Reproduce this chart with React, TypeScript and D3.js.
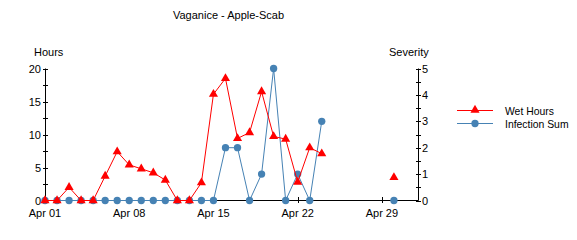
import React from "react";
import * as d3 from "d3";

const title = "Vaganice - Apple-Scab";
const dates = [
  "2024-04-01","2024-04-02","2024-04-03","2024-04-04","2024-04-05","2024-04-06","2024-04-07",
  "2024-04-08","2024-04-09","2024-04-10","2024-04-11","2024-04-12","2024-04-13","2024-04-14",
  "2024-04-15","2024-04-16","2024-04-17","2024-04-18","2024-04-19","2024-04-20","2024-04-21",
  "2024-04-22","2024-04-23","2024-04-24","2024-04-25","2024-04-26","2024-04-27","2024-04-28",
  "2024-04-29","2024-04-30",
];
const wetHours: (number | null)[] = [
  0, 0, 2, 0, 0, 3.7, 7.4, 5.4, 4.8, 4.2, 3.1, 0, 0, 2.7, 16.1, 18.5, 9.4, 10.3, 16.5, 9.7,
  9.3, 2.8, 8.0, 7.1, null, null, null, null, null, 3.5,
];
const infectionSum: (number | null)[] = [
  0, 0, 0, 0, 0, 0, 0, 0, 0, 0, 0, 0, 0, 0, 0, 2, 2, 0, 1, 5, 0, 1, 0, 3, null, null, null,
  null, null, 0,
];
const xTickDates = ["2024-04-01", "2024-04-08", "2024-04-15", "2024-04-22", "2024-04-29"];
const leftTicks = [0, 5, 10, 15, 20];
const rightTicks = [0, 1, 2, 3, 4, 5];
const seriesNames = ["Wet Hours", "Infection Sum"];

const RED = "#ff0000";
const BLUE = "#4682b4";
const FONT = "'Liberation Sans', Arial, sans-serif";

export default function App() {
  const W = 577, H = 240;
  const parse = d3.utcParse("%Y-%m-%d");
  const ds = dates.map((d) => parse(d) as Date);
  const start = ds[0];
  const end = d3.utcDay.offset(start, 31);
  const x = d3.scaleUtc().domain([start, end]).range([45, 418]);
  const yL = d3.scaleLinear().domain([0, 20]).range([200.5, 68.5]);
  const yR = d3.scaleLinear().domain([0, 5]).range([200.5, 68.5]);
  const fmt = d3.utcFormat("%b %d");

  const wetPts = ds.map((d, i) => ({ d, v: wetHours[i] }));
  const infPts = ds.map((d, i) => ({ d, v: infectionSum[i] }));
  const lineL = d3
    .line<{ d: Date; v: number | null }>()
    .defined((p) => p.v !== null)
    .x((p) => x(p.d))
    .y((p) => yL(p.v as number));
  const lineR = d3
    .line<{ d: Date; v: number | null }>()
    .defined((p) => p.v !== null)
    .x((p) => x(p.d))
    .y((p) => yR(p.v as number));

  const tri = d3.symbol().type(d3.symbolTriangle).size(36)() as string;
  const circ = d3.symbol().type(d3.symbolCircle).size(42)() as string;

  const minorL = d3.range(0, 20.01, 2.5);
  const minorR = d3.range(0, 5.01, 0.5);

  return (
    <svg
      width={W}
      height={H}
      style={{ position: "absolute", left: 0, top: 0, background: "#fff" }}
      fontFamily={FONT}
      fontSize={11}
    >
      <text x={228.5} y={19} textAnchor="middle" fill="#000">{title}</text>
      <text x={34} y={56} fill="#000">Hours</text>
      <text x={389} y={56} fill="#000">Severity</text>

      {/* axes */}
      <line x1={45.5} x2={45.5} y1={68.5} y2={200.5} stroke="#000" />
      <line x1={418.5} x2={418.5} y1={68.5} y2={200.5} stroke="#000" />
      <line x1={45} x2={418.5} y1={200.5} y2={200.5} stroke="#000" />
      {minorL.map((v) => (
        <line key={"ml" + v} x1={43} x2={48} y1={Math.round(yL(v)) + 0.5} y2={Math.round(yL(v)) + 0.5} stroke="#000" />
      ))}
      {leftTicks.map((v) => (
        <text key={"lt" + v} x={41} y={yL(v) + 4} textAnchor="end" fill="#000">{v}</text>
      ))}
      {minorR.map((v) => (
        <line key={"mr" + v} x1={416} x2={421} y1={Math.round(yR(v)) + 0.5} y2={Math.round(yR(v)) + 0.5} stroke="#000" />
      ))}
      {rightTicks.map((v) => (
        <text key={"rt" + v} x={422} y={yR(v) + 4} fill="#000">{v}</text>
      ))}
      {xTickDates.map((s) => {
        const d = parse(s) as Date;
        const px = Math.round(x(d)) + 0.5;
        return (
          <g key={s}>
            <line x1={px} x2={px} y1={197} y2={203} stroke="#000" />
            <text x={x(d)} y={217} textAnchor="middle" fill="#000">{fmt(d)}</text>
          </g>
        );
      })}

      {/* Infection Sum */}
      <path d={lineR(infPts) as string} fill="none" stroke={BLUE} strokeWidth={1} />
      {infPts.filter((p) => p.v !== null).map((p, i) => (
        <path key={"c" + i} d={circ} transform={`translate(${x(p.d)},${yR(p.v as number)})`} fill={BLUE} />
      ))}

      {/* Wet Hours */}
      <path d={lineL(wetPts) as string} fill="none" stroke={RED} strokeWidth={1} />
      {wetPts.filter((p) => p.v !== null).map((p, i) => (
        <path key={"t" + i} d={tri} transform={`translate(${x(p.d)},${yL(p.v as number)})`} fill={RED} />
      ))}

      {/* legend */}
      <line x1={457} x2={493} y1={110.5} y2={110.5} stroke={RED} />
      <path d={tri} transform="translate(475,110)" fill={RED} />
      <text x={505} y={115} fontSize={10.4} fill="#000">{seriesNames[0]}</text>
      <line x1={457} x2={493} y1={123.5} y2={123.5} stroke={BLUE} />
      <path d={circ} transform="translate(475,123.5)" fill={BLUE} />
      <text x={505} y={128} fontSize={10.4} fill="#000">{seriesNames[1]}</text>
    </svg>
  );
}
